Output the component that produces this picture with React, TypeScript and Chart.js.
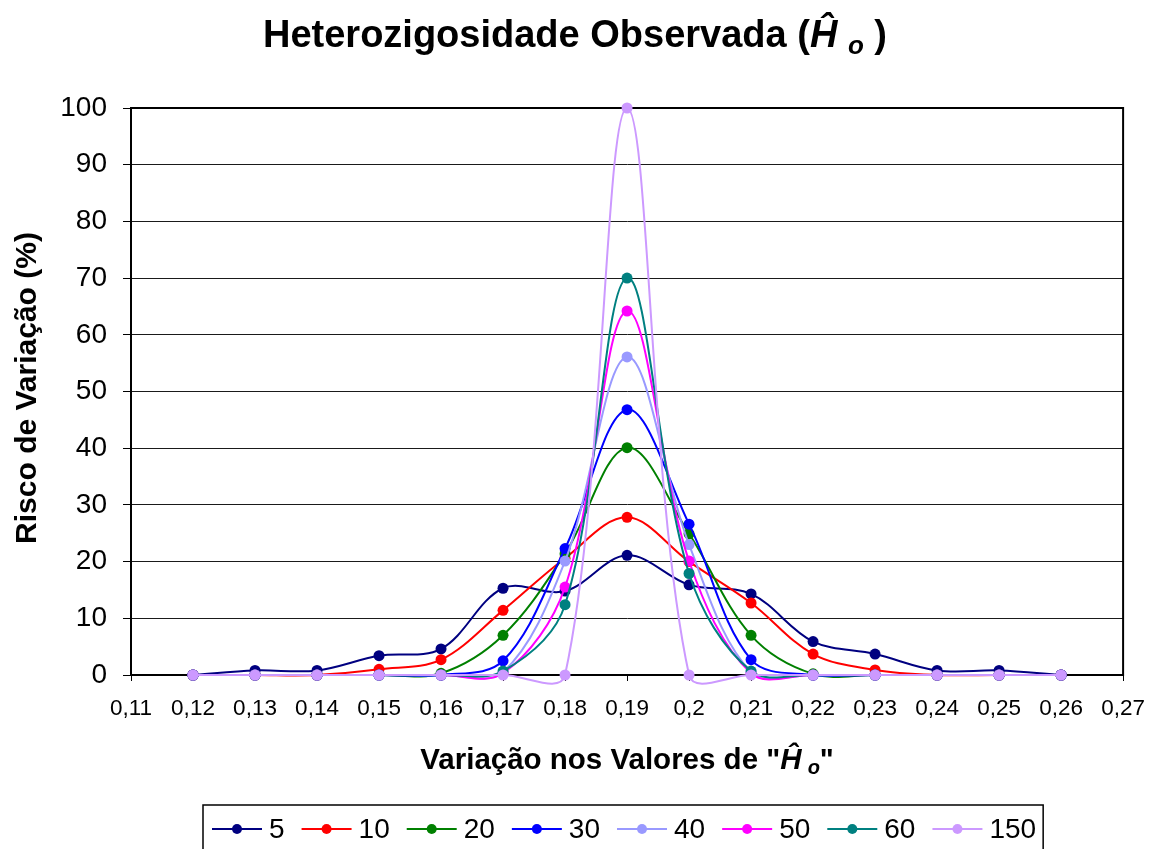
import React, { useEffect, useRef } from "react";
import { Chart, registerables } from "chart.js";

Chart.register(...registerables);

const FONT = '"Liberation Sans", Arial, Helvetica, sans-serif';

// ---- data ----
const xValues = [0.12, 0.13, 0.14, 0.15, 0.16, 0.17, 0.18, 0.19, 0.2, 0.21, 0.22, 0.23, 0.24, 0.25, 0.26];
const xTickValues = [0.11, 0.12, 0.13, 0.14, 0.15, 0.16, 0.17, 0.18, 0.19, 0.2, 0.21, 0.22, 0.23, 0.24, 0.25, 0.26, 0.27];
const yTickValues = [0, 10, 20, 30, 40, 50, 60, 70, 80, 90, 100];

const risk5 = [0, 0.8, 0.8, 3.4, 4.6, 15.3, 14.8, 21.1, 15.9, 14.3, 5.9, 3.7, 0.8, 0.8, 0];
const risk10 = [0, 0, 0, 1.0, 2.7, 11.4, 20.6, 27.8, 20.0, 12.7, 3.7, 0.9, 0, 0, 0];
const risk20 = [0, 0, 0, 0, 0.3, 7.0, 21.4, 40.1, 24.9, 7.0, 0.2, 0, 0, 0, 0];
const risk30 = [0, 0, 0, 0, 0, 2.5, 22.3, 46.8, 26.6, 2.7, 0, 0, 0, 0, 0];
const risk40 = [0, 0, 0, 0, 0, 0.5, 20.1, 56.1, 23.0, 0.5, 0, 0, 0, 0, 0];
const risk50 = [0, 0, 0, 0, 0, 0.3, 15.5, 64.2, 20.1, 0.3, 0, 0, 0, 0, 0];
const risk60 = [0, 0, 0, 0, 0, 0.7, 12.4, 70.0, 17.9, 0.7, 0, 0, 0, 0, 0];
const risk150 = [0, 0, 0, 0, 0, 0, 0, 100, 0, 0, 0, 0, 0, 0, 0];

const seriesNames = ["5", "10", "20", "30", "40", "50", "60", "150"];
const seriesValues = [risk5, risk10, risk20, risk30, risk40, risk50, risk60, risk150];
const seriesColors = ["#000080", "#FF0000", "#008000", "#0000FF", "#9999FF", "#FF00FF", "#008080", "#CC99FF"];

const formatTick = (v: number) => String(Math.round(v * 100) / 100).replace(".", ",");

type Part = { text: string; font: string; dy?: number };

function drawRich(ctx: CanvasRenderingContext2D, parts: Part[], cx: number, baseline: number) {
  let total = 0;
  for (const p of parts) {
    ctx.font = p.font;
    total += ctx.measureText(p.text).width;
  }
  let x = cx - total / 2;
  ctx.textAlign = "left";
  ctx.textBaseline = "alphabetic";
  ctx.fillStyle = "#000";
  for (const p of parts) {
    ctx.font = p.font;
    ctx.fillText(p.text, x, baseline + (p.dy || 0));
    x += ctx.measureText(p.text).width;
  }
}

const decorPlugin = {
  id: "decor",
  beforeDatasetsDraw(chart: any) {
    const { ctx, chartArea: a } = chart;
    ctx.save();
    ctx.strokeStyle = "#000";
    ctx.lineWidth = 2;
    ctx.strokeRect(a.left, a.top, a.right - a.left, a.bottom - a.top);
    ctx.restore();
  },
  afterDraw(chart: any) {
    const { ctx, chartArea: a } = chart;
    ctx.save();
    // Title
    drawRich(
      ctx,
      [
        { text: "Heterozigosidade Observada (", font: `bold 38px ${FONT}` },
        { text: "Ĥ", font: `italic bold 38px ${FONT}` },
        { text: " ", font: `bold 38px ${FONT}` },
        { text: "o", font: `italic bold 26px ${FONT}`, dy: 7 },
        { text: " )", font: `bold 38px ${FONT}` },
      ],
      575,
      47
    );
    // X title
    drawRich(
      ctx,
      [
        { text: 'Variação nos Valores de "', font: `bold 29.5px ${FONT}` },
        { text: "Ĥ", font: `italic bold 29.5px ${FONT}` },
        { text: " ", font: `bold 22px ${FONT}` },
        { text: "o", font: `italic bold 20px ${FONT}`, dy: 5 },
        { text: '"', font: `bold 29.5px ${FONT}` },
      ],
      (a.left + a.right) / 2,
      769
    );
    // Y title
    ctx.save();
    ctx.translate(28, 388);
    ctx.rotate(-Math.PI / 2);
    ctx.font = `bold 30px ${FONT}`;
    ctx.textAlign = "center";
    ctx.textBaseline = "middle";
    ctx.fillStyle = "#000";
    ctx.fillText("Risco de Variação (%)", 0, 0);
    ctx.restore();

    // Legend
    const lineLen = 50;
    const cy = 829;
    ctx.font = `28px ${FONT}`;
    let x = 212;
    const startX = x;
    const items = chart.data.datasets.map((d: any) => ({ label: d.label, color: d.borderColor }));
    const positions: number[] = [];
    items.forEach((it: any) => {
      positions.push(x);
      x += lineLen + 7 + ctx.measureText(it.label).width + 17;
    });
    const endX = x - 17 + 7;
    ctx.strokeStyle = "#000";
    ctx.lineWidth = 1.5;
    ctx.strokeRect(startX - 9, 805, endX - (startX - 9), 70);
    items.forEach((it: any, i: number) => {
      const px = positions[i];
      ctx.strokeStyle = it.color;
      ctx.lineWidth = 2;
      ctx.beginPath();
      ctx.moveTo(px, cy);
      ctx.lineTo(px + lineLen, cy);
      ctx.stroke();
      ctx.fillStyle = it.color;
      ctx.beginPath();
      ctx.arc(px + lineLen / 2, cy, 5, 0, Math.PI * 2);
      ctx.fill();
      ctx.fillStyle = "#000";
      ctx.textAlign = "left";
      ctx.textBaseline = "middle";
      ctx.fillText(it.label, px + lineLen + 7, cy + 1);
    });
    ctx.restore();
  },
};

export default function App() {
  const canvasRef = useRef<HTMLCanvasElement | null>(null);

  useEffect(() => {
    document.body.style.margin = "0";
    const canvas = canvasRef.current;
    if (!canvas) return;
    const n = seriesNames.length;
    const chart = new Chart(canvas, {
      type: "line",
      data: {
        datasets: seriesNames.map((name, i) => ({
          label: name,
          data: xValues.map((xv, j) => ({ x: xv, y: seriesValues[i][j] })),
          borderColor: seriesColors[i],
          backgroundColor: seriesColors[i],
          pointBackgroundColor: seriesColors[i],
          pointBorderColor: seriesColors[i],
          pointBorderWidth: 0,
          pointRadius: 5.5,
          borderWidth: 2,
          tension: 0.35,
          fill: false,
          clip: false as any,
          order: n - 1 - i,
        })),
      },
      options: {
        responsive: false,
        animation: false,
        events: [],
        layout: { padding: { left: 0, right: 32, top: 108, bottom: 0 } },
        elements: { line: { capBezierPoints: false } },
        plugins: {
          legend: { display: false },
          title: { display: false },
          tooltip: { enabled: false },
        },
        scales: {
          x: {
            type: "linear",
            min: 0.11,
            max: 0.27,
            afterFit: (s: any) => {
              s.height = 849 - 675;
            },
            afterBuildTicks: (s: any) => {
              s.ticks = xTickValues.map((v) => ({ value: v }));
            },
            ticks: {
              autoSkip: false,
              maxRotation: 0,
              minRotation: 0,
              padding: 14,
              color: "#000",
              font: { family: FONT, size: 22.5 },
              callback: (v: any) => formatTick(Number(v)),
            },
            grid: {
              display: true,
              drawOnChartArea: false,
              drawTicks: true,
              tickLength: 6,
              tickColor: "#000",
            },
            border: { display: true, color: "#000", width: 2 },
          },
          y: {
            type: "linear",
            min: 0,
            max: 100,
            afterFit: (s: any) => {
              s.width = 131;
            },
            afterBuildTicks: (s: any) => {
              s.ticks = yTickValues.map((v) => ({ value: v }));
            },
            ticks: {
              padding: 16,
              color: "#000",
              font: { family: FONT, size: 28 },
              callback: (v: any) => String(v),
            },
            grid: {
              display: true,
              color: "#1a1a1a",
              lineWidth: 1,
              drawTicks: true,
              tickLength: 8,
              tickColor: "#000",
            },
            border: { display: true, color: "#000", width: 2 },
          },
        },
      },
      plugins: [decorPlugin],
    } as any);
    return () => chart.destroy();
  }, []);

  return (
    <div style={{ position: "fixed", left: 0, top: 0, width: 1159, height: 849, background: "#fff" }}>
      <canvas ref={canvasRef} width={1159} height={849} style={{ display: "block" }} />
    </div>
  );
}
